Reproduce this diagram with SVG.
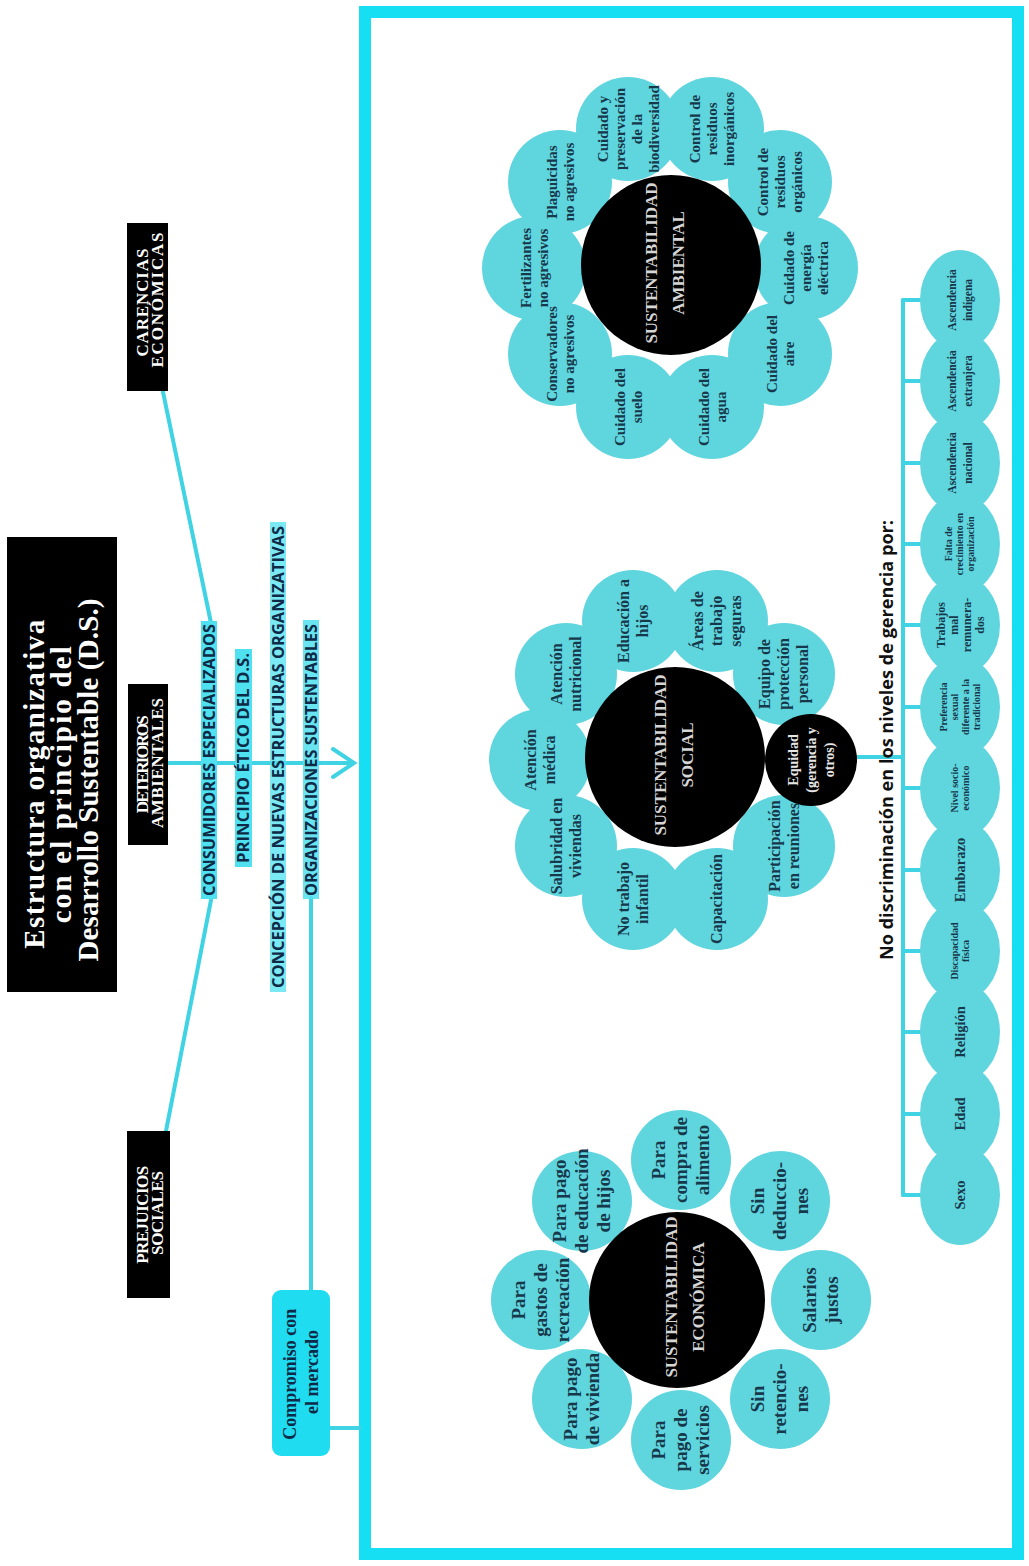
<svg xmlns="http://www.w3.org/2000/svg" width="1029" height="1566" viewBox="0 0 1029 1566">
<style>
.sf{font-family:"Liberation Serif","Times New Roman",serif;font-weight:bold;text-anchor:middle}
.ss{font-family:"Open Sans","Liberation Sans",sans-serif;font-weight:bold;text-anchor:middle}
.wt{fill:#ffffff}
.gt{fill:#d6d6d6}
.dk{fill:#17384b}
.nv{fill:#0e2a47}
.cy{fill:#5fd5de}
.blk{fill:#000000}
.hl{fill:#4fe1f0}
.conn{stroke:#3fd3e3;stroke-width:4;fill:none;stroke-linecap:round}
.e19{font-size:19px}
.e16{font-size:16px}
.e15{font-size:15px}
.e14{font-size:14.5px}
.e10{font-size:10px}
.e12{font-size:12px}
.e11{font-size:11.5px}
</style>
<rect width="1029" height="1566" fill="#ffffff"/>
<rect id="frame" x="365" y="12" width="653" height="1542" fill="none" stroke="#16dff3" stroke-width="12"/>

<g id="connectors">
  <line class="conn" x1="163" y1="392" x2="211" y2="623"/>
  <line class="conn" x1="166" y1="1131" x2="211" y2="900"/>
  <line class="conn" x1="168" y1="763" x2="352" y2="763"/>
  <polyline class="conn" points="333,749 354,763 333,777"/>
  <line class="conn" x1="311" y1="898" x2="311" y2="1290"/>
  <line class="conn" x1="330" y1="1428" x2="360" y2="1428"/>
  <line class="conn" x1="857" y1="757" x2="903" y2="757"/>
  <line class="conn" x1="903" y1="300" x2="903" y2="1195"/>
  <line class="conn" x1="903" y1="300" x2="922" y2="300"/>
  <line class="conn" x1="903" y1="381" x2="922" y2="381"/>
  <line class="conn" x1="903" y1="463" x2="922" y2="463"/>
  <line class="conn" x1="903" y1="544" x2="922" y2="544"/>
  <line class="conn" x1="903" y1="625" x2="922" y2="625"/>
  <line class="conn" x1="903" y1="707" x2="922" y2="707"/>
  <line class="conn" x1="903" y1="788" x2="922" y2="788"/>
  <line class="conn" x1="903" y1="870" x2="922" y2="870"/>
  <line class="conn" x1="903" y1="951" x2="922" y2="951"/>
  <line class="conn" x1="903" y1="1032" x2="922" y2="1032"/>
  <line class="conn" x1="903" y1="1114" x2="922" y2="1114"/>
  <line class="conn" x1="903" y1="1195" x2="922" y2="1195"/>
</g>

<g id="title">
  <rect x="7" y="537" width="110" height="455" class="blk"/>
  <text class="sf wt" font-size="29" transform="translate(61,780) rotate(-90)">
    <tspan x="0" y="-17.5" textLength="329">Estructura organizativa</tspan>
    <tspan x="0" y="9.5" textLength="277">con el principio del</tspan>
    <tspan x="0" y="36.5" textLength="363">Desarrollo Sustentable (D.S.)</tspan>
  </text>
</g>

<g id="carencias">
  <rect x="127" y="223" width="41" height="168" class="blk"/>
  <text class="sf wt" font-size="17" transform="translate(149.5,300) rotate(-90)">
    <tspan x="0" y="-1.9" textLength="108">CARENCIAS</tspan>
    <tspan x="0" y="13.1" textLength="135">ECONÓMICAS</tspan>
  </text>
</g>
<g id="deterioros">
  <rect x="128" y="684" width="40" height="161" class="blk"/>
  <text class="sf wt" font-size="17" transform="translate(149.5,763) rotate(-90)">
    <tspan x="0" y="-1.9" textLength="98">DETERIOROS</tspan>
    <tspan x="0" y="13.1" textLength="130">AMBIENTALES</tspan>
  </text>
</g>
<g id="prejuicios">
  <rect x="127" y="1131" width="43" height="167" class="blk"/>
  <text class="sf wt" font-size="17" transform="translate(149.5,1213) rotate(-90)">
    <tspan x="0" y="-1.9" textLength="98">PREJUICIOS</tspan>
    <tspan x="0" y="13.1" textLength="84">SOCIALES</tspan>
  </text>
</g>

<g id="consumidores">
  <rect x="201" y="621" width="16" height="278" class="hl"/>
  <text class="ss nv" font-size="15.5" transform="translate(214.5,760) rotate(-90)" textLength="272" lengthAdjust="spacingAndGlyphs">CONSUMIDORES ESPECIALIZADOS</text>
</g>
<g id="principio">
  <rect x="235" y="649" width="17" height="218" class="hl"/>
  <text class="ss nv" font-size="15.5" transform="translate(249,758) rotate(-90)" textLength="210" lengthAdjust="spacingAndGlyphs">PRINCIPIO ÉTICO DEL D.S.</text>
</g>
<g id="concepcion">
  <rect x="270" y="522" width="16" height="470" class="hl" opacity="0.75"/>
  <text class="ss nv" font-size="15.5" transform="translate(283.5,757) rotate(-90)" textLength="462" lengthAdjust="spacingAndGlyphs">CONCEPCIÓN DE NUEVAS ESTRUCTURAS ORGANIZATIVAS</text>
</g>
<g id="organizaciones">
  <rect x="303" y="620" width="16" height="279" class="hl" opacity="0.85"/>
  <text class="ss nv" font-size="15.5" transform="translate(316.5,760) rotate(-90)" textLength="272" lengthAdjust="spacingAndGlyphs">ORGANIZACIONES SUSTENTABLES</text>
</g>

<g id="compromiso">
  <rect x="272" y="1290" width="58" height="166" rx="9" fill="#1fdcf0"/>
  <text class="sf nv" font-size="18" transform="translate(301,1372) rotate(-90)">
    <tspan x="0" y="-5">Compromiso con</tspan>
    <tspan x="0" y="17">el mercado</tspan>
  </text>
</g>

<g id="ambiental">
  <circle cx="806" cy="268" r="52" class="cy"/>
  <circle cx="780" cy="354" r="52" class="cy"/>
  <circle cx="712" cy="407" r="52" class="cy"/>
  <circle cx="628" cy="407" r="52" class="cy"/>
  <circle cx="560" cy="354" r="52" class="cy"/>
  <circle cx="534" cy="268" r="52" class="cy"/>
  <circle cx="560" cy="182" r="52" class="cy"/>
  <circle cx="628" cy="129" r="52" class="cy"/>
  <circle cx="712" cy="129" r="52" class="cy"/>
  <circle cx="780" cy="182" r="52" class="cy"/>
  <circle cx="671" cy="265" r="90" class="blk"/>
  <text class="sf gt" font-size="17" transform="translate(664.5,263) rotate(-90)"><tspan x="0" y="-7.5">SUSTENTABILIDAD</tspan><tspan x="0" y="19.5">AMBIENTAL</tspan></text>
  <text class="sf dk e15" transform="translate(806,268) rotate(-90)"><tspan x="0" y="-12">Cuidado de</tspan><tspan x="0" y="5">energía</tspan><tspan x="0" y="22">eléctrica</tspan></text>
  <text class="sf dk e15" transform="translate(780,354) rotate(-90)"><tspan x="0" y="-3.5">Cuidado del</tspan><tspan x="0" y="13.5">aire</tspan></text>
  <text class="sf dk e15" transform="translate(712,407) rotate(-90)"><tspan x="0" y="-3.5">Cuidado del</tspan><tspan x="0" y="13.5">agua</tspan></text>
  <text class="sf dk e15" transform="translate(628,407) rotate(-90)"><tspan x="0" y="-3.5">Cuidado del</tspan><tspan x="0" y="13.5">suelo</tspan></text>
  <text class="sf dk e15" transform="translate(560,354) rotate(-90)"><tspan x="0" y="-3.5">Conservadores</tspan><tspan x="0" y="13.5">no agresivos</tspan></text>
  <text class="sf dk e15" transform="translate(534,268) rotate(-90)"><tspan x="0" y="-3.5">Fertilizantes</tspan><tspan x="0" y="13.5">no agresivos</tspan></text>
  <text class="sf dk e15" transform="translate(560,182) rotate(-90)"><tspan x="0" y="-3.5">Plaguicidas</tspan><tspan x="0" y="13.5">no agresivos</tspan></text>
  <text class="sf dk e15" transform="translate(628,129) rotate(-90)"><tspan x="0" y="-20.5">Cuidado y</tspan><tspan x="0" y="-3.5">preservación</tspan><tspan x="0" y="13.5">de la</tspan><tspan x="0" y="30.5">biodiversidad</tspan></text>
  <text class="sf dk e15" transform="translate(712,129) rotate(-90)"><tspan x="0" y="-12">Control de</tspan><tspan x="0" y="5">residuos</tspan><tspan x="0" y="22">inorgánicos</tspan></text>
  <text class="sf dk e15" transform="translate(780,182) rotate(-90)"><tspan x="0" y="-12">Control de</tspan><tspan x="0" y="5">residuos</tspan><tspan x="0" y="22">orgánicos</tspan></text>
</g>

<g id="social">
  <circle cx="784" cy="846" r="51" class="cy"/>
  <circle cx="717" cy="899" r="51" class="cy"/>
  <circle cx="633" cy="899" r="51" class="cy"/>
  <circle cx="566" cy="846" r="51" class="cy"/>
  <circle cx="540" cy="760" r="51" class="cy"/>
  <circle cx="566" cy="674" r="51" class="cy"/>
  <circle cx="633" cy="621" r="51" class="cy"/>
  <circle cx="717" cy="621" r="51" class="cy"/>
  <circle cx="784" cy="674" r="51" class="cy"/>
  <circle cx="675" cy="757" r="90" class="blk"/>
  <circle cx="811" cy="760" r="46" class="blk"/>
  <text class="sf gt" font-size="17" transform="translate(673.5,755) rotate(-90)"><tspan x="0" y="-7.5">SUSTENTABILIDAD</tspan><tspan x="0" y="19.5">SOCIAL</tspan></text>
  <text class="sf" font-size="14" fill="#e6e6e6" transform="translate(811,760) rotate(-90)"><tspan x="0" y="-13.5">Equidad</tspan><tspan x="0" y="4.5">(gerencia y</tspan><tspan x="0" y="22.5">otros)</tspan></text>
  <text class="sf dk e16" transform="translate(784,846) rotate(-90)"><tspan x="0" y="-4.5">Participación</tspan><tspan x="0" y="14.5">en reuniones</tspan></text>
  <text class="sf dk e16" transform="translate(717,899) rotate(-90)"><tspan x="0" y="5">Capacitación</tspan></text>
  <text class="sf dk e16" transform="translate(633,899) rotate(-90)"><tspan x="0" y="-4.5">No trabajo</tspan><tspan x="0" y="14.5">infantil</tspan></text>
  <text class="sf dk e16" transform="translate(566,846) rotate(-90)"><tspan x="0" y="-4.5">Salubridad en</tspan><tspan x="0" y="14.5">viviendas</tspan></text>
  <text class="sf dk e16" transform="translate(540,760) rotate(-90)"><tspan x="0" y="-4.5">Atención</tspan><tspan x="0" y="14.5">médica</tspan></text>
  <text class="sf dk e16" transform="translate(566,674) rotate(-90)"><tspan x="0" y="-4.5">Atención</tspan><tspan x="0" y="14.5">nutricional</tspan></text>
  <text class="sf dk e16" transform="translate(633,621) rotate(-90)"><tspan x="0" y="-4.5">Educación a</tspan><tspan x="0" y="14.5">hijos</tspan></text>
  <text class="sf dk e16" transform="translate(717,621) rotate(-90)"><tspan x="0" y="-14">Áreas de</tspan><tspan x="0" y="5">trabajo</tspan><tspan x="0" y="24">seguras</tspan></text>
  <text class="sf dk e16" transform="translate(784,674) rotate(-90)"><tspan x="0" y="-14">Equipo de</tspan><tspan x="0" y="5">protección</tspan><tspan x="0" y="24">personal</tspan></text>
</g>

<g id="economica">
  <circle cx="821" cy="1300" r="50" class="cy"/>
  <circle cx="780" cy="1399" r="50" class="cy"/>
  <circle cx="681" cy="1440" r="50" class="cy"/>
  <circle cx="582" cy="1399" r="50" class="cy"/>
  <circle cx="541" cy="1300" r="50" class="cy"/>
  <circle cx="582" cy="1201" r="50" class="cy"/>
  <circle cx="681" cy="1160" r="50" class="cy"/>
  <circle cx="780" cy="1201" r="50" class="cy"/>
  <circle cx="677" cy="1300" r="88" class="blk"/>
  <text class="sf gt" font-size="17" transform="translate(684.5,1297) rotate(-90)"><tspan x="0" y="-7.5">SUSTENTABILIDAD</tspan><tspan x="0" y="19.5">ECONÓMICA</tspan></text>
  <text class="sf dk e19" transform="translate(821,1300) rotate(-90)"><tspan x="0" y="-5">Salarios</tspan><tspan x="0" y="17">justos</tspan></text>
  <text class="sf dk e19" transform="translate(780,1399) rotate(-90)"><tspan x="0" y="-16">Sin</tspan><tspan x="0" y="6">retencio-</tspan><tspan x="0" y="28">nes</tspan></text>
  <text class="sf dk e19" transform="translate(681,1440) rotate(-90)"><tspan x="0" y="-16">Para</tspan><tspan x="0" y="6">pago de</tspan><tspan x="0" y="28">servicios</tspan></text>
  <text class="sf dk e19" transform="translate(582,1399) rotate(-90)"><tspan x="0" y="-5">Para pago</tspan><tspan x="0" y="17">de vivienda</tspan></text>
  <text class="sf dk e19" transform="translate(541,1300) rotate(-90)"><tspan x="0" y="-16">Para</tspan><tspan x="0" y="6">gastos de</tspan><tspan x="0" y="28">recreación</tspan></text>
  <text class="sf dk e19" transform="translate(582,1201) rotate(-90)"><tspan x="0" y="-16">Para pago</tspan><tspan x="0" y="6">de educación</tspan><tspan x="0" y="28">de hijos</tspan></text>
  <text class="sf dk e19" transform="translate(681,1160) rotate(-90)"><tspan x="0" y="-16">Para</tspan><tspan x="0" y="6">compra de</tspan><tspan x="0" y="28">alimento</tspan></text>
  <text class="sf dk e19" transform="translate(780,1201) rotate(-90)"><tspan x="0" y="-16">Sin</tspan><tspan x="0" y="6">deduccio-</tspan><tspan x="0" y="28">nes</tspan></text>
</g>

<g id="nodiscriminacion">
  <text class="ss" font-size="17" fill="#111111" transform="translate(893,740) rotate(-90)" textLength="440" lengthAdjust="spacingAndGlyphs">No discriminación en los niveles de gerencia por:</text>
</g>

<g id="factores">
  <ellipse cx="960" cy="1195" rx="40" ry="50" class="cy"/>
  <ellipse cx="960" cy="1114" rx="40" ry="50" class="cy"/>
  <ellipse cx="960" cy="1032" rx="40" ry="50" class="cy"/>
  <ellipse cx="960" cy="951" rx="40" ry="50" class="cy"/>
  <ellipse cx="960" cy="870" rx="40" ry="50" class="cy"/>
  <ellipse cx="960" cy="788" rx="40" ry="50" class="cy"/>
  <ellipse cx="960" cy="707" rx="40" ry="50" class="cy"/>
  <ellipse cx="960" cy="625" rx="40" ry="50" class="cy"/>
  <ellipse cx="960" cy="544" rx="40" ry="50" class="cy"/>
  <ellipse cx="960" cy="463" rx="40" ry="50" class="cy"/>
  <ellipse cx="960" cy="381" rx="40" ry="50" class="cy"/>
  <ellipse cx="960" cy="300" rx="40" ry="50" class="cy"/>
  <text class="sf dk e14" transform="translate(960,1195) rotate(-90)"><tspan x="0" y="4.5">Sexo</tspan></text>
  <text class="sf dk e14" transform="translate(960,1114) rotate(-90)"><tspan x="0" y="4.5">Edad</tspan></text>
  <text class="sf dk e14" transform="translate(960,1032) rotate(-90)"><tspan x="0" y="4.5">Religión</tspan></text>
  <text class="sf dk e10" transform="translate(960,951) rotate(-90)"><tspan x="0" y="-2.2">Discapacidad</tspan><tspan x="0" y="8.8">física</tspan></text>
  <text class="sf dk e14" transform="translate(960,870) rotate(-90)"><tspan x="0" y="4.5">Embarazo</tspan></text>
  <text class="sf dk e10" transform="translate(960,788) rotate(-90)"><tspan x="0" y="-2.2">Nivel socio-</tspan><tspan x="0" y="8.8">económico</tspan></text>
  <text class="sf dk e10" transform="translate(960,707) rotate(-90)"><tspan x="0" y="-13.2">Preferencia</tspan><tspan x="0" y="-2.2">sexual</tspan><tspan x="0" y="8.8">diferente a la</tspan><tspan x="0" y="19.8">tradicional</tspan></text>
  <text class="sf dk e12" transform="translate(960,625) rotate(-90)"><tspan x="0" y="-15.5">Trabajos</tspan><tspan x="0" y="-2.5">mal</tspan><tspan x="0" y="10.5">remunera-</tspan><tspan x="0" y="23.5">dos</tspan></text>
  <text class="sf dk e10" transform="translate(960,544) rotate(-90)"><tspan x="0" y="-7.7">Falta de</tspan><tspan x="0" y="3.3">crecimiento en</tspan><tspan x="0" y="14.3">organización</tspan></text>
  <text class="sf dk e11" transform="translate(960,463) rotate(-90)"><tspan x="0" y="-4.3">Ascendencia</tspan><tspan x="0" y="11.7">nacional</tspan></text>
  <text class="sf dk e11" transform="translate(960,381) rotate(-90)"><tspan x="0" y="-4.3">Ascendencia</tspan><tspan x="0" y="11.7">extranjera</tspan></text>
  <text class="sf dk e11" transform="translate(960,300) rotate(-90)"><tspan x="0" y="-4.3">Ascendencia</tspan><tspan x="0" y="11.7">indígena</tspan></text>
</g>
</svg>
